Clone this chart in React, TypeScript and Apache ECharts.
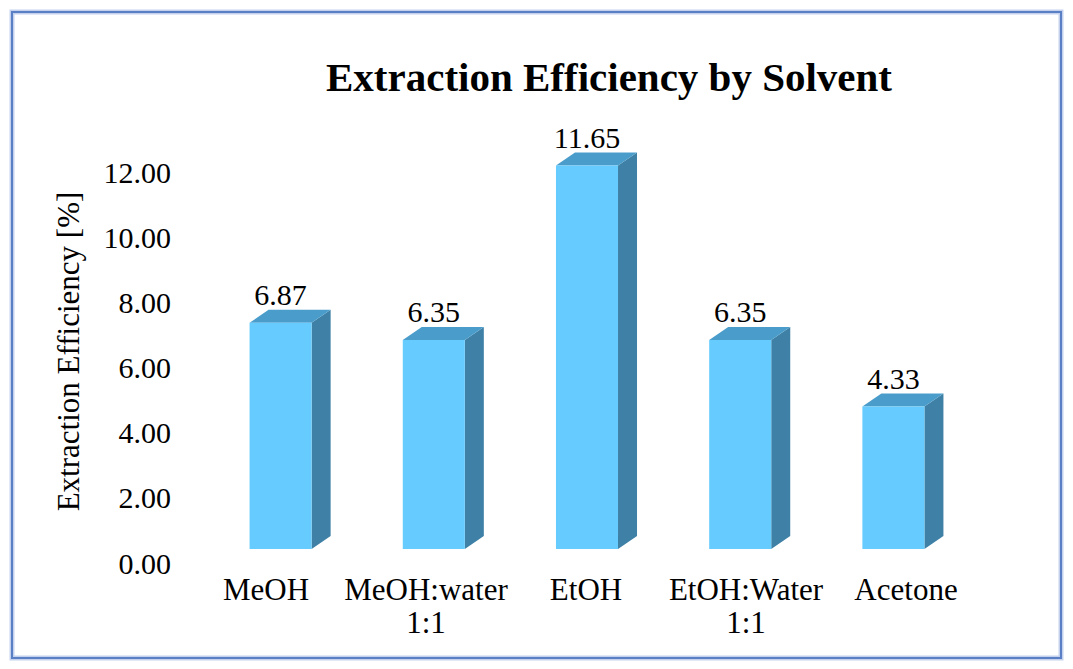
import { useEffect, useRef } from "react";
import * as echarts from "echarts";

const categories = ["MeOH", "MeOH:water\n1:1", "EtOH", "EtOH:Water\n1:1", "Acetone"];
const efficiency = [6.87, 6.35, 11.65, 6.35, 4.33];
const yMin = 0;
const yMax = 12;
const yStep = 2;

const FONT = "'Liberation Serif', 'Times New Roman', serif";
const FRONT = "#66CCFF";
const TOP = "#4A9DCB";
const SIDE = "#3E80A6";
// depth of the 3D look, in pixels
const DX = 19;
const DY = 13;

export default function App() {
  const chartRef = useRef<HTMLDivElement>(null);

  useEffect(() => {
    if (!chartRef.current) return;
    const chart = echarts.init(chartRef.current, null, { renderer: "svg" });

    const renderBar = (params: any, api: any) => {
      const idx = api.value(0);
      const v = api.value(1);
      const top = api.coord([idx, v]);
      const base = api.coord([idx, 0]);
      const w = api.size([1, 0])[0] * 0.405;
      const l = top[0] - w / 2;
      const r = top[0] + w / 2;
      const yt = top[1];
      const yb = base[1];
      return {
        type: "group",
        children: [
          {
            type: "polygon",
            shape: { points: [[r, yb], [r + DX, yb - DY], [r + DX, yt - DY], [r, yt]] },
            style: { fill: SIDE },
          },
          {
            type: "polygon",
            shape: { points: [[l, yt], [l + DX, yt - DY], [r + DX, yt - DY], [r, yt]] },
            style: { fill: TOP },
          },
          {
            type: "rect",
            shape: { x: l, y: yt, width: w, height: yb - yt },
            style: { fill: FRONT },
          },
          {
            type: "text",
            style: {
              text: v.toFixed(2),
              x: top[0],
              y: yt - DY,
              textAlign: "center",
              textVerticalAlign: "bottom",
              fontSize: 30,
              fontFamily: FONT,
              fill: "#000",
            },
          },
        ],
      };
    };

    chart.setOption({
      animation: false,
      backgroundColor: "#fff",
      title: {
        text: "Extraction Efficiency by Solvent",
        left: 604,
        top: 51,
        textAlign: "center",
        textStyle: { fontFamily: FONT, fontSize: 41, fontWeight: "bold", color: "#000" },
      },
      graphic: [
        {
          type: "rect",
          shape: { x: 12, y: 12, width: 1049, height: 646 },
          style: { fill: "none", stroke: "#C3D1EE", lineWidth: 5 },
        },
        {
          type: "rect",
          shape: { x: 12, y: 12, width: 1049, height: 646 },
          style: { fill: "none", stroke: "#5B7FC4", lineWidth: 2 },
        },
      ],
      grid: [
        { left: 186, top: 172, width: 800, height: 391 },
        { left: 204, top: 154, width: 766, height: 395 },
      ],
      xAxis: [
        {
          type: "category",
          gridIndex: 0,
          data: categories,
          axisLine: { show: false },
          axisTick: { show: false },
          axisLabel: {
            margin: 10,
            fontFamily: FONT,
            fontSize: 31,
            lineHeight: 33,
            color: "#000",
            interval: 0,
          },
        },
        {
          type: "category",
          gridIndex: 1,
          data: categories,
          show: false,
        },
      ],
      yAxis: [
        {
          type: "value",
          gridIndex: 0,
          min: yMin,
          max: yMax,
          interval: yStep,
          axisLine: { show: false },
          axisTick: { show: false },
          splitLine: { show: false },
          axisLabel: {
            margin: 15,
            fontFamily: FONT,
            fontSize: 30,
            color: "#000",
            formatter: (v: number) => v.toFixed(2),
          },
        },
        {
          type: "value",
          gridIndex: 1,
          min: yMin,
          max: yMax,
          interval: yStep,
          name: "Extraction Efficiency [%]",
          nameLocation: "middle",
          nameGap: 120,
          nameTextStyle: { fontFamily: FONT, fontSize: 31, color: "#000" },
          axisLine: { show: false },
          axisTick: { show: false },
          splitLine: { show: false },
          axisLabel: { show: false },
        },
      ],
      series: [
        {
          type: "custom",
          xAxisIndex: 1,
          yAxisIndex: 1,
          data: efficiency.map((v, i) => [i, v]),
          renderItem: renderBar,
        },
      ],
    });

    return () => chart.dispose();
  }, []);

  return (
    <div
      ref={chartRef}
      style={{ position: "absolute", left: 0, top: 0, width: 1073, height: 669 }}
    />
  );
}
